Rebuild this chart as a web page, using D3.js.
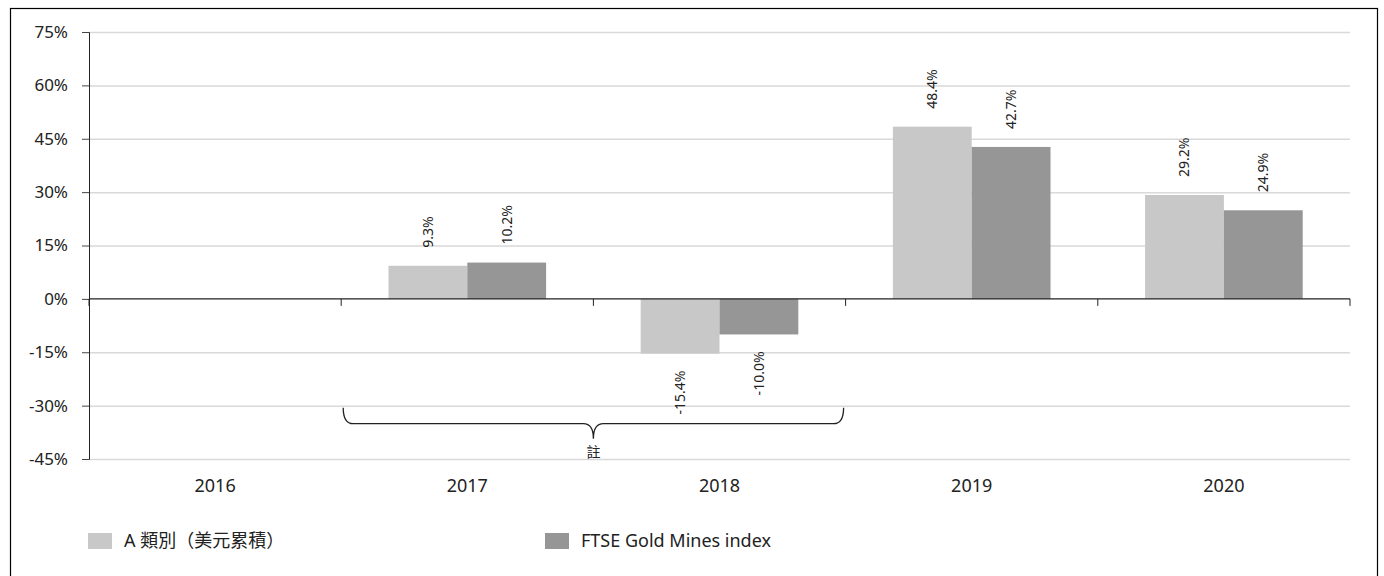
<!DOCTYPE html>
<html>
<head>
<meta charset="utf-8">
<script src="https://cdn.jsdelivr.net/npm/d3@7"></script>
<style>
  body { margin: 0; background: #fff; }
  text { font-family: "Noto Sans", "Noto Sans CJK TC", sans-serif; fill: #222; }
</style>
</head>
<body>
<script>

// data
var years = ['2016', '2017', '2018', '2019', '2020'];
var seriesNames = ['A 類別（美元累積）', 'FTSE Gold Mines index'];
var classA = [null, 9.3, -15.4, 48.4, 29.2];
var ftse = [null, 10.2, -10.0, 42.7, 24.9];
var yTicks = [75, 60, 45, 30, 15, 0, -15, -30, -45];
var colors = ['#c8c8c8', '#969696'];
var noteLabel = '註';
var noteYears = ['2017', '2018'];

var svg = d3.select('body').append('svg')
    .attr('width', 1384)
    .attr('height', 576);

// outer frame
svg.append('rect')
    .attr('x', 10.5).attr('y', 8.5)
    .attr('width', 1367).attr('height', 580)
    .attr('fill', 'none')
    .attr('stroke', '#000')
    .attr('stroke-width', 1.2);

var margin = { top: 32, left: 89 };
var width = 1261;
var height = 427;

var g = svg.append('g')
    .attr('transform', 'translate(' + margin.left + ',' + margin.top + ')');

var x0 = d3.scaleBand()
    .domain(years)
    .range([0, width])
    .padding(0);

var x1 = d3.scaleBand()
    .domain([0, 1])
    .range([0, x0.bandwidth()])
    .paddingInner(0)
    .paddingOuter(0.6);

var y = d3.scaleLinear()
    .domain([-45, 75])
    .range([height, 0]);

// gridlines
g.append('g')
    .selectAll('line')
    .data(yTicks.filter(d => d !== 0))
    .enter().append('line')
    .attr('x1', 0).attr('x2', width)
    .attr('y1', d => y(d) + 0.5).attr('y2', d => y(d) + 0.5)
    .attr('stroke', '#d9d9d9')
    .attr('stroke-width', 1.5);

// y axis
var yAxis = g.append('g')
    .call(d3.axisLeft(y).tickValues(yTicks).tickSize(7).tickPadding(14).tickFormat(d => d + '%'));
yAxis.select('.domain').attr('stroke', '#222');
yAxis.selectAll('.tick line').attr('stroke', '#444');
yAxis.selectAll('text')
    .style('font-family', '"Noto Sans", sans-serif')
    .style('font-size', '17px')
    .attr('fill', '#222');

// bars
var rows = years.map((yr, i) => ({ year: yr, values: [classA[i], ftse[i]] }));

var groups = g.selectAll('.grp')
    .data(rows)
    .enter().append('g')
    .attr('class', 'grp')
    .attr('transform', d => 'translate(' + x0(d.year) + ',0)');

var bars = groups.selectAll('.bar')
    .data(d => d.values.map((v, k) => ({ k: k, v: v })).filter(d => d.v !== null))
    .enter();

bars.append('rect')
    .attr('class', 'bar')
    .attr('x', d => x1(d.k))
    .attr('width', x1.bandwidth())
    .attr('y', d => Math.min(y(d.v), y(0)))
    .attr('height', d => Math.abs(y(d.v) - y(0)))
    .attr('fill', d => colors[d.k]);

bars.append('text')
    .attr('transform', d => {
        var cx = x1(d.k) + x1.bandwidth() / 2;
        var cy = d.v >= 0 ? y(d.v) - 18 : y(d.v) + 17;
        return 'translate(' + cx + ',' + cy + ') rotate(-90)';
    })
    .attr('text-anchor', d => d.v >= 0 ? 'start' : 'end')
    .attr('dy', '0.35em')
    .style('font-size', '14px')
    .text(d => d.v.toFixed(1) + '%');

// zero line + category ticks
var xAxis = g.append('g')
    .attr('transform', 'translate(0,' + y(0) + ')');
xAxis.append('line')
    .attr('x1', 0).attr('x2', width)
    .attr('stroke', '#222').attr('stroke-width', 1.3);
xAxis.selectAll('.ctick')
    .data(years.concat(['end']))
    .enter().append('line')
    .attr('x1', d => d === 'end' ? width : x0(d))
    .attr('x2', d => d === 'end' ? width : x0(d))
    .attr('y1', 0).attr('y2', 7)
    .attr('stroke', '#222');

// year labels
g.selectAll('.yr')
    .data(years)
    .enter().append('text')
    .attr('x', d => x0(d) + x0.bandwidth() / 2)
    .attr('y', height + 27)
    .attr('dy', '0.35em')
    .attr('text-anchor', 'middle')
    .style('font-size', '18px')
    .text(d => d);

// brace for the note
var bx0 = x0(noteYears[0]) + 2;
var bx1 = x0(noteYears[1]) + x0.bandwidth() - 2;
var bm = (bx0 + bx1) / 2;
var bTop = y(-30) + 2, bMid = bTop + 16, bTip = bMid + 15, br = 10;
g.append('path')
    .attr('d',
        'M' + bx0 + ',' + bTop +
        ' Q' + bx0 + ',' + bMid + ' ' + (bx0 + br) + ',' + bMid +
        ' L' + (bm - br) + ',' + bMid +
        ' Q' + bm + ',' + bMid + ' ' + bm + ',' + bTip +
        ' Q' + bm + ',' + bMid + ' ' + (bm + br) + ',' + bMid +
        ' L' + (bx1 - br) + ',' + bMid +
        ' Q' + bx1 + ',' + bMid + ' ' + bx1 + ',' + bTop)
    .attr('fill', 'none')
    .attr('stroke', '#222')
    .attr('stroke-width', 1.3);

g.append('text')
    .attr('x', bm)
    .attr('y', bTip + 13)
    .attr('dy', '0.35em')
    .attr('text-anchor', 'middle')
    .style('font-size', '14px')
    .text(noteLabel);

// legend
var legendX = [88, 545];
var legend = svg.selectAll('.leg')
    .data(seriesNames)
    .enter().append('g')
    .attr('transform', (d, i) => 'translate(' + legendX[i] + ',533)');
legend.append('rect')
    .attr('width', 24).attr('height', 16)
    .attr('fill', (d, i) => colors[i]);
legend.append('text')
    .attr('x', 36).attr('y', 8)
    .attr('dy', '0.35em')
    .style('font-size', '18px')
    .text(d => d);

</script>
</body>
</html>
